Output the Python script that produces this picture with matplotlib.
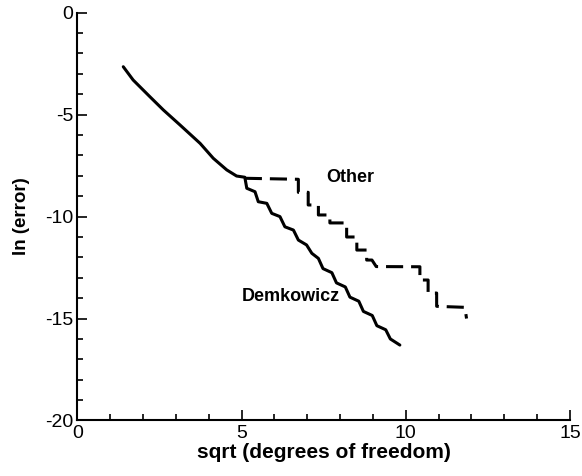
import matplotlib
matplotlib.use("Agg")
import matplotlib.pyplot as plt
from matplotlib.ticker import MultipleLocator

plt.rcParams['font.family'] = ['Liberation Sans', 'DejaVu Sans']
plt.rcParams['axes.unicode_minus'] = False

# convergence history, ln(error) against sqrt(dof)
demk_x = [1.40, 1.70, 2.21, 2.62, 3.13, 3.74, 4.14, 4.55, 4.85, 5.10,
          5.16, 5.41, 5.51, 5.77, 5.92, 6.17, 6.32, 6.58, 6.73, 6.98,
          7.14, 7.34, 7.48, 7.75, 7.89, 8.16, 8.30, 8.57, 8.71, 8.98,
          9.12, 9.39, 9.53, 9.82]
demk_y = [-2.65, -3.30, -4.12, -4.77, -5.51, -6.41, -7.14, -7.71, -8.01, -8.07,
          -8.61, -8.78, -9.27, -9.35, -9.84, -10.00, -10.50, -10.66, -11.15, -11.39,
          -11.80, -12.05, -12.55, -12.75, -13.25, -13.45, -13.95, -14.15, -14.65, -14.85,
          -15.35, -15.55, -16.00, -16.30]

other_x = [5.10, 6.73, 6.73, 7.03, 7.03, 7.34, 7.34, 7.69, 7.69, 8.20,
           8.20, 8.51, 8.51, 8.81, 8.81, 8.97, 9.10, 10.43, 10.43, 10.68,
           10.68, 10.94, 10.94, 11.80, 11.85]
other_y = [-8.12, -8.17, -8.81, -8.81, -9.43, -9.43, -9.92, -9.92, -10.31, -10.31,
           -11.00, -11.00, -11.64, -11.64, -12.13, -12.13, -12.45, -12.46, -13.11, -13.11,
           -13.75, -13.75, -14.40, -14.45, -15.00]

fig = plt.figure(figsize=(5.82, 4.76), dpi=100)
ax = fig.add_axes([0.1328, 0.1166, 0.8466, 0.8567])

ax.plot(demk_x, demk_y, color='black', lw=2.2,
        solid_joinstyle='round', solid_capstyle='round')
ax.plot(other_x, other_y, color='black', lw=2.2, linestyle=(0, (5.6, 2.6)))

ax.text(8.3, -8.1, 'Other', fontsize=13, fontweight='bold', ha='center', va='center')
ax.text(6.5, -13.9, 'Demkowicz', fontsize=13, fontweight='bold', ha='center', va='center')

ax.set_xlim(0, 15)
ax.set_ylim(-20, 0)
ax.xaxis.set_major_locator(MultipleLocator(5))
ax.xaxis.set_minor_locator(MultipleLocator(1))
ax.yaxis.set_major_locator(MultipleLocator(5))
ax.yaxis.set_minor_locator(MultipleLocator(1))

for side in ['top', 'right']:
    ax.spines[side].set_visible(False)
for side in ['left', 'bottom']:
    ax.spines[side].set_linewidth(1.5)

ax.tick_params(which='both', direction='in', width=1.2, labelsize=14)
ax.tick_params(which='major', length=7, pad=3)
ax.tick_params(which='minor', length=4)

ax.set_xlabel('sqrt (degrees of freedom)', fontsize=15, fontweight='bold', labelpad=1)
ax.set_ylabel('ln (error)', fontsize=13.5, fontweight='bold', labelpad=11)

fig.savefig('out.png', dpi=100)
